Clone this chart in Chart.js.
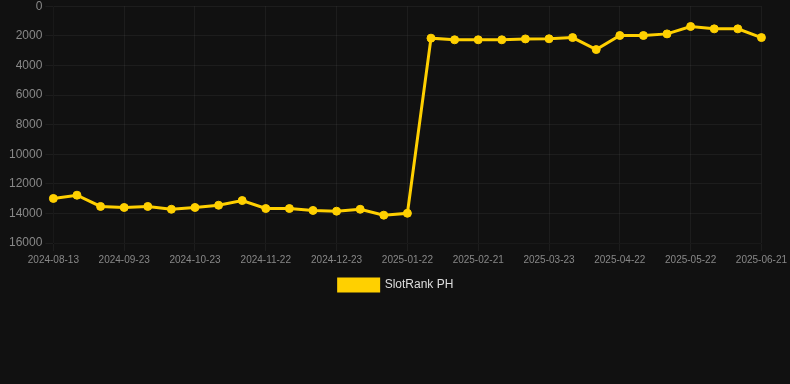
<!DOCTYPE html>
<html>
<head>
<meta charset="utf-8">
<script src="https://cdn.jsdelivr.net/npm/chart.js@4/dist/chart.umd.min.js"></script>
<style>
  html, body { margin: 0; padding: 0; background: #111111; overflow: hidden; }
  #wrap { width: 790px; height: 305px; position: relative; margin-top: -4px; }
</style>
</head>
<body>
<div id="wrap"><canvas id="rankChart"></canvas></div>
<script>
var fechas = [
    "2024-08-13", "2024-08-27", "2024-09-10", "2024-09-23", "2024-10-03", "2024-10-13",
    "2024-10-23", "2024-11-02", "2024-11-12", "2024-11-22", "2024-12-02", "2024-12-12",
    "2024-12-23", "2025-01-02", "2025-01-12", "2025-01-22", "2025-02-01", "2025-02-11",
    "2025-02-21", "2025-03-03", "2025-03-13", "2025-03-23", "2025-04-02", "2025-04-12",
    "2025-04-22", "2025-05-02", "2025-05-12", "2025-05-22", "2025-06-01", "2025-06-11",
    "2025-06-21"
];

var posiciones = [
    12990, 12770, 13530, 13600, 13530, 13720, 13600, 13450, 13130, 13670, 13670,
    13800, 13850, 13720, 14120, 13990, 2160, 2270, 2270, 2270, 2210, 2200, 2120,
    2930, 1980, 1980, 1870, 1370, 1530, 1530, 2120
];

var nombreSerie = "SlotRank PH";
var colorSerie = "#FFD000";

var contexto = document.getElementById('rankChart').getContext('2d');
var grafico = new Chart(contexto, {
    type: 'line',
    data: {
        labels: fechas,
        datasets: [{
            label: nombreSerie,
            data: posiciones,
            borderColor: colorSerie,
            backgroundColor: colorSerie,
            pointBackgroundColor: colorSerie,
            pointBorderColor: colorSerie,
            borderWidth: 3,
            pointRadius: 4,
            pointBorderWidth: 1,
            tension: 0
        }]
    },
    options: {
        maintainAspectRatio: false,
        animation: false,
        layout: { padding: { left: 6, right: 4, top: 0, bottom: 0 } },
        plugins: {
            legend: {
                position: 'bottom',
                labels: {
                    color: '#dddddd',
                    boxWidth: 40,
                    boxHeight: 12,
                    font: { family: 'Arial, "Liberation Sans", sans-serif', size: 12 }
                }
            },
            tooltip: { enabled: false }
        },
        scales: {
            x: {
                grid: { color: 'rgba(255,255,255,0.05)' },
                ticks: {
                    color: '#888888',
                    maxRotation: 0,
                    autoSkip: false,
                    font: { family: 'Arial, "Liberation Sans", sans-serif', size: 10 },
                    callback: function (valor, indice) {
                        return indice % 3 === 0 ? fechas[indice] : null;
                    }
                }
            },
            y: {
                reverse: true,
                min: 0,
                max: 16000,
                grid: { color: 'rgba(255,255,255,0.05)' },
                ticks: {
                    stepSize: 2000,
                    color: '#888888',
                    font: { family: 'Arial, "Liberation Sans", sans-serif', size: 12 },
                    callback: function (valor) {
                        return String(valor);
                    }
                }
            }
        }
    }
});
</script>
</body>
</html>
